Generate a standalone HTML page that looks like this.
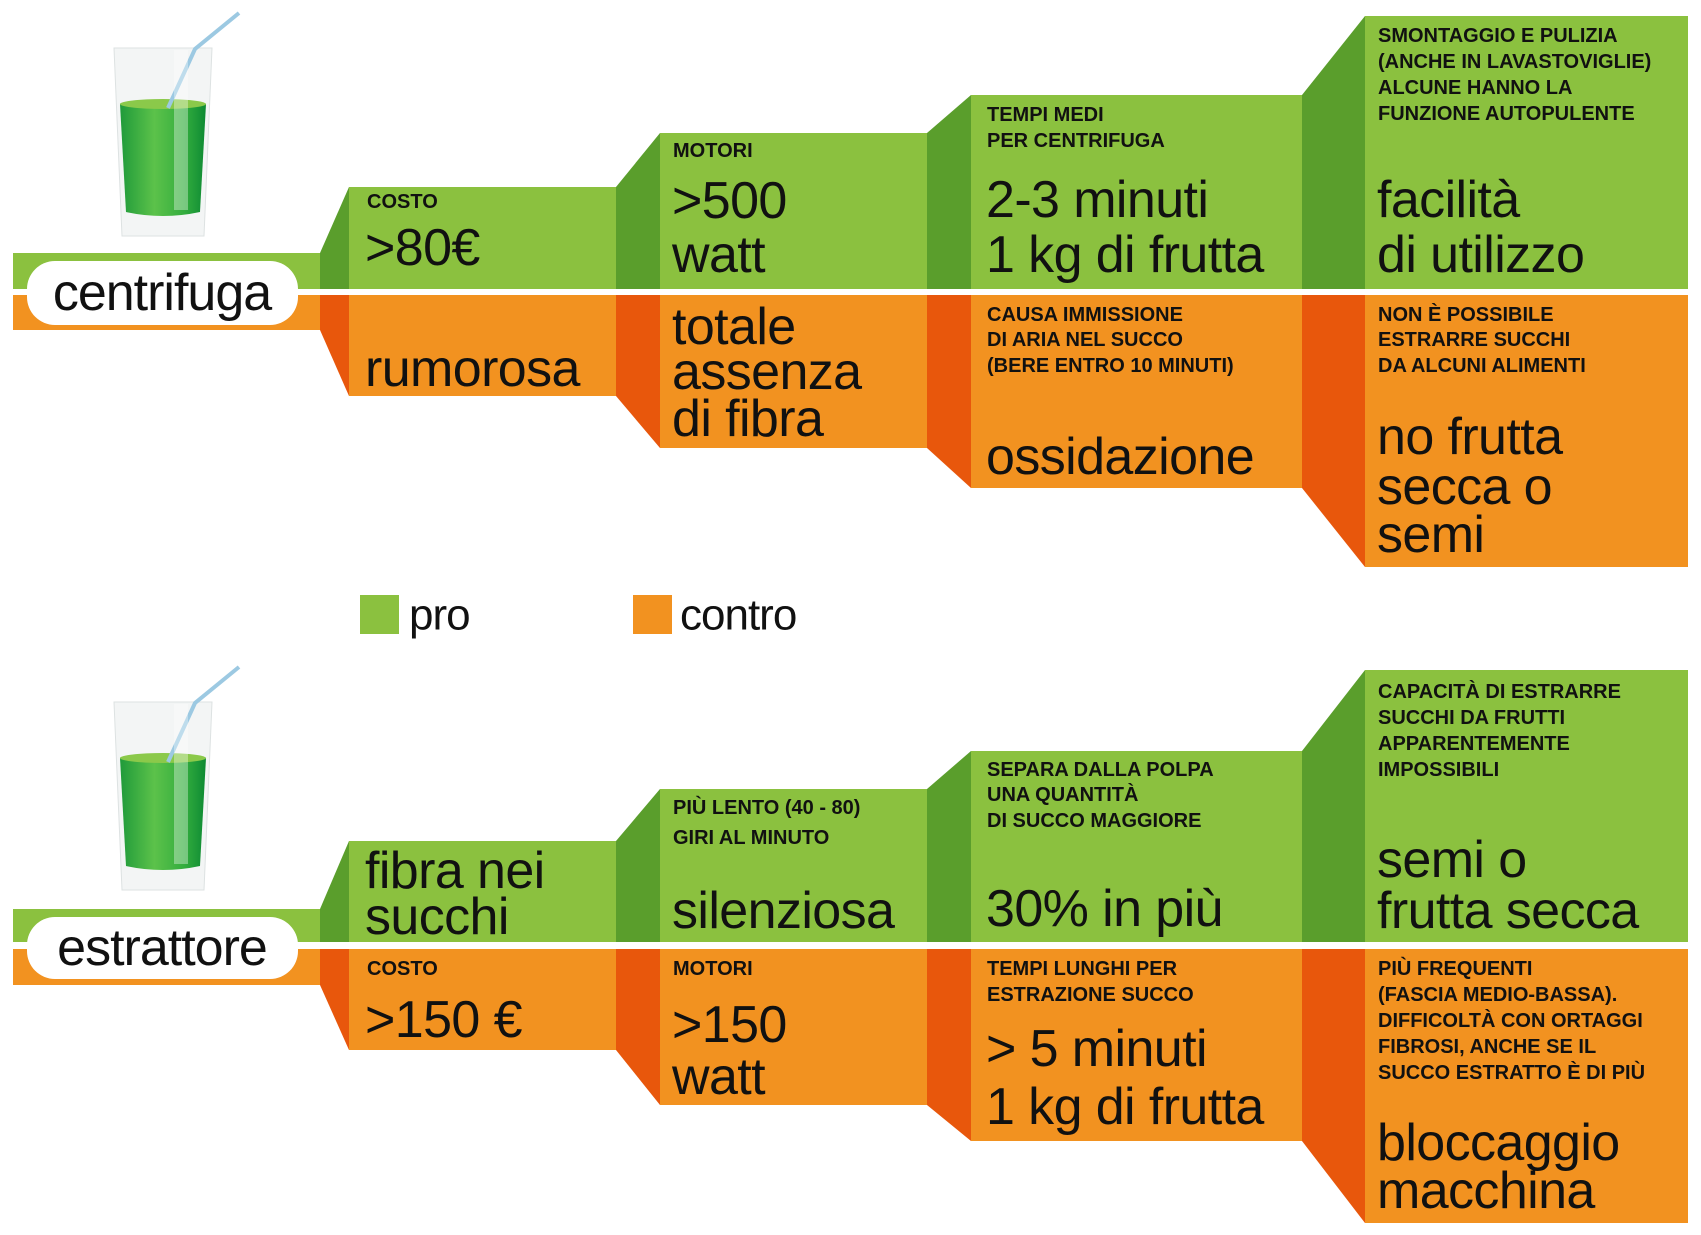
<!DOCTYPE html>
<html><head><meta charset="utf-8"><style>
html,body{margin:0;padding:0;background:#fff;}
svg{display:block;}
.s{font-family:"Liberation Sans",sans-serif;font-weight:bold;font-size:20px;fill:#111;}
.b{font-family:"Liberation Sans",sans-serif;font-size:52px;fill:#111;letter-spacing:-0.6px;}
.lab{font-family:"Liberation Sans",sans-serif;font-size:52px;fill:#111;letter-spacing:-1px;}
</style></head><body>
<svg width="1701" height="1235" viewBox="0 0 1701 1235" xmlns="http://www.w3.org/2000/svg">
<defs>
<linearGradient id="jg" x1="0" x2="1"><stop offset="0" stop-color="#1f9a3a"/><stop offset="0.4" stop-color="#5cc24a"/><stop offset="0.75" stop-color="#33ad3e"/><stop offset="1" stop-color="#0d8a33"/></linearGradient>
<g id="glass">
<path d="M0,8 L98,8 L90,196 L8,196 Z" fill="#f3f5f5" stroke="#dde2e2"/>
<path d="M6,64 Q49,56 92,64 L86,172 Q49,180 12,172 Z" fill="url(#jg)"/>
<ellipse cx="49" cy="64" rx="43" ry="5" fill="#8bc94a"/>
<polyline points="54,68 81,9 125,-27" fill="none" stroke="#9cc9e2" stroke-width="4"/>
<rect x="60" y="10" width="14" height="160" fill="#fff" opacity="0.35"/>
</g>
</defs>

<!-- TOP -->
<rect x="13" y="253" width="307" height="36" fill="#8bc13f"/>
<rect x="13" y="295" width="307" height="35" fill="#f29220"/>
<polygon points="320,253 349,187 349,289 320,289" fill="#5a9e2c"/>
<rect x="349" y="187" width="267" height="102" fill="#8bc13f"/>
<polygon points="320,295 349,295 349,396 320,330" fill="#e8570c"/>
<rect x="349" y="295" width="267" height="101" fill="#f29220"/>
<polygon points="616,187 660,133 660,289 616,289" fill="#5a9e2c"/>
<rect x="660" y="133" width="267" height="156" fill="#8bc13f"/>
<polygon points="616,295 660,295 660,448 616,396" fill="#e8570c"/>
<rect x="660" y="295" width="267" height="153" fill="#f29220"/>
<polygon points="927,133 971,95 971,289 927,289" fill="#5a9e2c"/>
<rect x="971" y="95" width="331" height="194" fill="#8bc13f"/>
<polygon points="927,295 971,295 971,488 927,448" fill="#e8570c"/>
<rect x="971" y="295" width="331" height="193" fill="#f29220"/>
<polygon points="1302,95 1365,16 1365,289 1302,289" fill="#5a9e2c"/>
<rect x="1365" y="16" width="323" height="273" fill="#8bc13f"/>
<polygon points="1302,295 1365,295 1365,567 1302,488" fill="#e8570c"/>
<rect x="1365" y="295" width="323" height="272" fill="#f29220"/>
<rect x="27" y="261" width="271" height="64" rx="28" fill="#fff"/>
<text class="lab" x="162" y="293" text-anchor="middle" dominant-baseline="central">centrifuga</text>
<use href="#glass" x="114" y="40"/>

<g dominant-baseline="central">
<text class="s" x="367" y="202">COSTO</text>
<text class="b" x="365" y="248">&gt;80€</text>
<text class="b" x="365" y="369">rumorosa</text>
<text class="s" x="673" y="151">MOTORI</text>
<text class="b" x="672" y="201">&gt;500</text>
<text class="b" x="672" y="255">watt</text>
<text class="b" x="672" y="327">totale</text>
<text class="b" x="672" y="372">assenza</text>
<text class="b" x="672" y="419">di fibra</text>
<text class="s" x="987" y="115">TEMPI MEDI</text>
<text class="s" x="987" y="141">PER CENTRIFUGA</text>
<text class="b" x="986" y="200">2-3 minuti</text>
<text class="b" x="986" y="255">1 kg di frutta</text>
<text class="s" x="987" y="315">CAUSA IMMISSIONE</text>
<text class="s" x="987" y="340">DI ARIA NEL SUCCO</text>
<text class="s" x="987" y="366">(BERE ENTRO 10 MINUTI)</text>
<text class="b" x="986" y="457">ossidazione</text>
<text class="s" x="1378" y="36">SMONTAGGIO E PULIZIA</text>
<text class="s" x="1378" y="62">(ANCHE IN LAVASTOVIGLIE)</text>
<text class="s" x="1378" y="88">ALCUNE HANNO LA</text>
<text class="s" x="1378" y="114">FUNZIONE AUTOPULENTE</text>
<text class="b" x="1377" y="200">facilità</text>
<text class="b" x="1377" y="255">di utilizzo</text>
<text class="s" x="1378" y="315">NON È POSSIBILE</text>
<text class="s" x="1378" y="340">ESTRARRE SUCCHI</text>
<text class="s" x="1378" y="366">DA ALCUNI ALIMENTI</text>
<text class="b" x="1377" y="437">no frutta</text>
<text class="b" x="1377" y="487">secca o</text>
<text class="b" x="1377" y="535">semi</text>
</g>

<!-- LEGEND -->
<rect x="360" y="595" width="39" height="39" fill="#8bc13f"/>
<text class="lab" x="409" y="615" dominant-baseline="central" style="font-size:44px">pro</text>
<rect x="633" y="595" width="39" height="39" fill="#f29220"/>
<text class="lab" x="680" y="615" dominant-baseline="central" style="font-size:44px">contro</text>

<!-- BOTTOM -->
<rect x="13" y="909" width="307" height="33" fill="#8bc13f"/>
<rect x="13" y="949" width="307" height="36" fill="#f29220"/>
<polygon points="320,909 349,841 349,942 320,942" fill="#5a9e2c"/>
<rect x="349" y="841" width="267" height="101" fill="#8bc13f"/>
<polygon points="320,949 349,949 349,1050 320,985" fill="#e8570c"/>
<rect x="349" y="949" width="267" height="101" fill="#f29220"/>
<polygon points="616,841 660,789 660,942 616,942" fill="#5a9e2c"/>
<rect x="660" y="789" width="267" height="153" fill="#8bc13f"/>
<polygon points="616,949 660,949 660,1105 616,1050" fill="#e8570c"/>
<rect x="660" y="949" width="267" height="156" fill="#f29220"/>
<polygon points="927,789 971,751 971,942 927,942" fill="#5a9e2c"/>
<rect x="971" y="751" width="331" height="191" fill="#8bc13f"/>
<polygon points="927,949 971,949 971,1141 927,1105" fill="#e8570c"/>
<rect x="971" y="949" width="331" height="192" fill="#f29220"/>
<polygon points="1302,751 1365,670 1365,942 1302,942" fill="#5a9e2c"/>
<rect x="1365" y="670" width="323" height="272" fill="#8bc13f"/>
<polygon points="1302,949 1365,949 1365,1223 1302,1141" fill="#e8570c"/>
<rect x="1365" y="949" width="323" height="274" fill="#f29220"/>
<rect x="27" y="917" width="271" height="62" rx="28" fill="#fff"/>
<text class="lab" x="162" y="948" text-anchor="middle" dominant-baseline="central">estrattore</text>
<use href="#glass" x="114" y="694"/>

<g dominant-baseline="central">
<text class="b" x="365" y="871">fibra nei</text>
<text class="b" x="365" y="917">succhi</text>
<text class="s" x="367" y="969">COSTO</text>
<text class="b" x="365" y="1020">&gt;150 €</text>
<text class="s" x="673" y="808">PIÙ LENTO (40 - 80)</text>
<text class="s" x="673" y="838">GIRI AL MINUTO</text>
<text class="b" x="672" y="911">silenziosa</text>
<text class="s" x="673" y="969">MOTORI</text>
<text class="b" x="672" y="1025">&gt;150</text>
<text class="b" x="672" y="1077">watt</text>
<text class="s" x="987" y="770">SEPARA DALLA POLPA</text>
<text class="s" x="987" y="795">UNA QUANTITÀ</text>
<text class="s" x="987" y="821">DI SUCCO MAGGIORE</text>
<text class="b" x="986" y="909">30% in più</text>
<text class="s" x="987" y="969">TEMPI LUNGHI PER</text>
<text class="s" x="987" y="995">ESTRAZIONE SUCCO</text>
<text class="b" x="986" y="1049">&gt; 5 minuti</text>
<text class="b" x="986" y="1107">1 kg di frutta</text>
<text class="s" x="1378" y="692">CAPACITÀ DI ESTRARRE</text>
<text class="s" x="1378" y="718">SUCCHI DA FRUTTI</text>
<text class="s" x="1378" y="744">APPARENTEMENTE</text>
<text class="s" x="1378" y="770">IMPOSSIBILI</text>
<text class="b" x="1377" y="860">semi o</text>
<text class="b" x="1377" y="911">frutta secca</text>
<text class="s" x="1378" y="969">PIÙ FREQUENTI</text>
<text class="s" x="1378" y="995">(FASCIA MEDIO-BASSA).</text>
<text class="s" x="1378" y="1021">DIFFICOLTÀ CON ORTAGGI</text>
<text class="s" x="1378" y="1047">FIBROSI, ANCHE SE IL</text>
<text class="s" x="1378" y="1073">SUCCO ESTRATTO È DI PIÙ</text>
<text class="b" x="1377" y="1143">bloccaggio</text>
<text class="b" x="1377" y="1191">macchina</text>
</g>
</svg>
</body></html>
